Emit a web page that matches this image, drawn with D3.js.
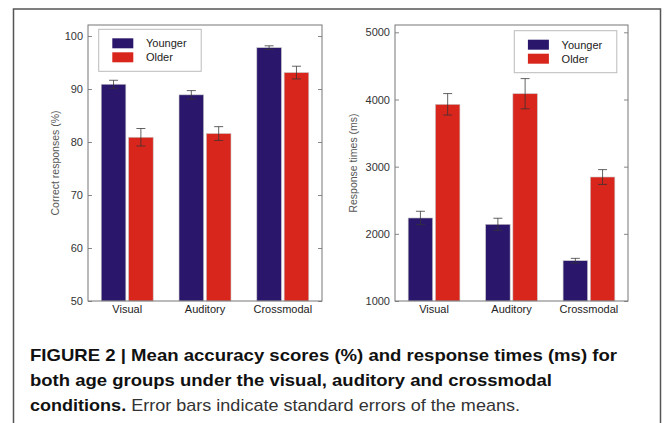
<!DOCTYPE html>
<html>
<head>
<meta charset="utf-8">
<script src="https://cdn.jsdelivr.net/npm/d3@7"></script>
<style>
  body { margin: 0; background: #fff; }
  svg { display: block; font-family: "Liberation Sans", Arial, sans-serif; }
</style>
</head>
<body>
<svg id="fig" width="667" height="423"></svg>
<script>
// conditions and groups
const CONDITIONS = ["Visual", "Auditory", "Crossmodal"];
const GROUPS = ["Younger", "Older"];

// accuracy (%) with standard errors
const accYounger = [90.9, 88.9, 97.8];
const accOlder   = [80.9, 81.6, 93.1];
const accYoungerSE = [0.75, 0.8, 0.35];
const accOlderSE   = [1.65, 1.3, 1.2];
const accTicks = [50, 60, 70, 80, 90, 100];

// response times (ms) with standard errors
const rtYounger = [2236, 2142, 1600];
const rtOlder   = [3928, 4086, 2846];
const rtYoungerSE = [100, 90, 35];
const rtOlderSE   = [160, 225, 110];
const rtTicks = [1000, 2000, 3000, 4000, 5000];

const COLORS = { Younger: "#2a176c", Older: "#d9261c" };

const svg = d3.select("#fig");

// outer figure frame
svg.append("rect")
  .attr("x", 13.5).attr("y", 9)
  .attr("width", 647).attr("height", 430)
  .attr("fill", "none").attr("stroke", "#555").attr("stroke-width", 1.5);

function panel(opts) {
  const { left, top, width, height, domain, ticks, younger, older, ySE, oSE, label, labelX, legendX } = opts;

  const g = svg.append("g").attr("transform", `translate(${left},${top})`);

  const y = d3.scaleLinear().domain(domain).range([height, 0]);
  const x0 = d3.scaleBand().domain(CONDITIONS).range([0, width])
    .paddingInner(0.332).paddingOuter(0.17);
  const x1 = d3.scaleBand().domain(GROUPS).range([0, x0.bandwidth()])
    .paddingInner(0.1).paddingOuter(0);

  const rows = CONDITIONS.flatMap((c, i) => [
    { cond: c, group: "Younger", v: younger[i], se: ySE[i] },
    { cond: c, group: "Older", v: older[i], se: oSE[i] },
  ]);

  // bars
  g.selectAll("rect.bar").data(rows).enter().append("rect")
    .attr("class", "bar")
    .attr("x", (d) => x0(d.cond) + x1(d.group))
    .attr("width", x1.bandwidth())
    .attr("y", (d) => y(d.v))
    .attr("height", (d) => height - y(d.v))
    .attr("fill", (d) => COLORS[d.group])
    .attr("stroke", "#c8c8c8").attr("stroke-width", 0.6);

  // error bars
  const eb = g.selectAll("g.err").data(rows).enter().append("g")
    .attr("class", "err")
    .attr("transform", (d) => `translate(${x0(d.cond) + x1(d.group) + x1.bandwidth() / 2},0)`)
    .attr("stroke", "#333").attr("stroke-width", 0.9).attr("stroke-opacity", 0.85);
  eb.append("line").attr("y1", (d) => y(d.v + d.se)).attr("y2", (d) => y(d.v - d.se));
  eb.append("line").attr("x1", -4.5).attr("x2", 4.5)
    .attr("y1", (d) => y(d.v + d.se)).attr("y2", (d) => y(d.v + d.se));
  eb.append("line").attr("x1", -4.5).attr("x2", 4.5)
    .attr("y1", (d) => y(d.v - d.se)).attr("y2", (d) => y(d.v - d.se));

  // y axis, ticks inward on both sides
  const yl = g.append("g").call(d3.axisLeft(y).tickValues(ticks).tickSize(-4).tickPadding(5).tickFormat(d3.format("d")));
  const yr = g.append("g").attr("transform", `translate(${width},0)`)
    .call(d3.axisRight(y).tickValues(ticks).tickSize(-4).tickFormat(""));
  [yl, yr].forEach((a) => {
    a.select(".domain").remove();
    a.selectAll("line").attr("stroke", "#888");
  });
  yl.selectAll("text").attr("font-size", 11).attr("fill", "#333")
    .attr("font-family", "Liberation Sans, Arial, sans-serif");

  // x axis labels
  const xa = g.append("g").attr("transform", `translate(0,${height})`)
    .call(d3.axisBottom(x0).tickSize(0).tickPadding(4));
  xa.select(".domain").remove();
  xa.selectAll("text").attr("font-size", 11).attr("fill", "#222")
    .attr("font-family", "Liberation Sans, Arial, sans-serif");

  // axes frame
  g.append("rect").attr("width", width).attr("height", height)
    .attr("fill", "none").attr("stroke", "#777").attr("stroke-width", 1);

  // y label
  g.append("text")
    .attr("transform", `translate(${labelX},${height / 2}) rotate(-90)`)
    .attr("text-anchor", "middle")
    .attr("font-size", 10.5).attr("fill", "#555")
    .text(label);

  // legend
  const lg = g.append("g").attr("transform", `translate(${legendX},${opts.legendY})`);
  lg.append("rect").attr("width", 102.5).attr("height", 42)
    .attr("fill", "#fff").attr("stroke", "#bbb").attr("stroke-width", 1);
  GROUPS.forEach((grp, i) => {
    lg.append("rect").attr("x", 13.6).attr("y", 9 + i * 14)
      .attr("width", 21).attr("height", 10).attr("fill", COLORS[grp]);
    lg.append("text").attr("x", 47.3).attr("y", 18 + i * 14)
      .attr("font-size", 11).attr("fill", "#222").text(grp);
  });
}

panel({
  left: 88, top: 25, width: 234, height: 276,
  domain: [50, 102.08], ticks: accTicks,
  younger: accYounger, older: accOlder, ySE: accYoungerSE, oSE: accOlderSE,
  label: "Correct responses (%)", labelX: -29, legendX: 10.7, legendY: 4.3,
});

panel({
  left: 395, top: 25, width: 233, height: 276,
  domain: [1000, 5109], ticks: rtTicks,
  younger: rtYounger, older: rtOlder, ySE: rtYoungerSE, oSE: rtOlderSE,
  label: "Response times (ms)", labelX: -38, legendX: 119.3, legendY: 5.7,
});

// caption
const cap = svg.append("g").attr("font-size", 17).attr("fill", "#111");
cap.append("text").attr("x", 30).attr("y", 361)
  .attr("font-weight", "bold")
  .attr("textLength", 587).attr("lengthAdjust", "spacingAndGlyphs")
  .text("FIGURE 2 | Mean accuracy scores (%) and response times (ms) for");
cap.append("text").attr("x", 30).attr("y", 386)
  .attr("font-weight", "bold")
  .attr("textLength", 522).attr("lengthAdjust", "spacingAndGlyphs")
  .text("both age groups under the visual, auditory and crossmodal");
const l3 = cap.append("text").attr("x", 30).attr("y", 411)
  .attr("textLength", 490).attr("lengthAdjust", "spacingAndGlyphs");
l3.append("tspan").attr("font-weight", "bold").text("conditions.");
l3.append("tspan").attr("fill", "#333").text(" Error bars indicate standard errors of the means.");
</script>
</body>
</html>
